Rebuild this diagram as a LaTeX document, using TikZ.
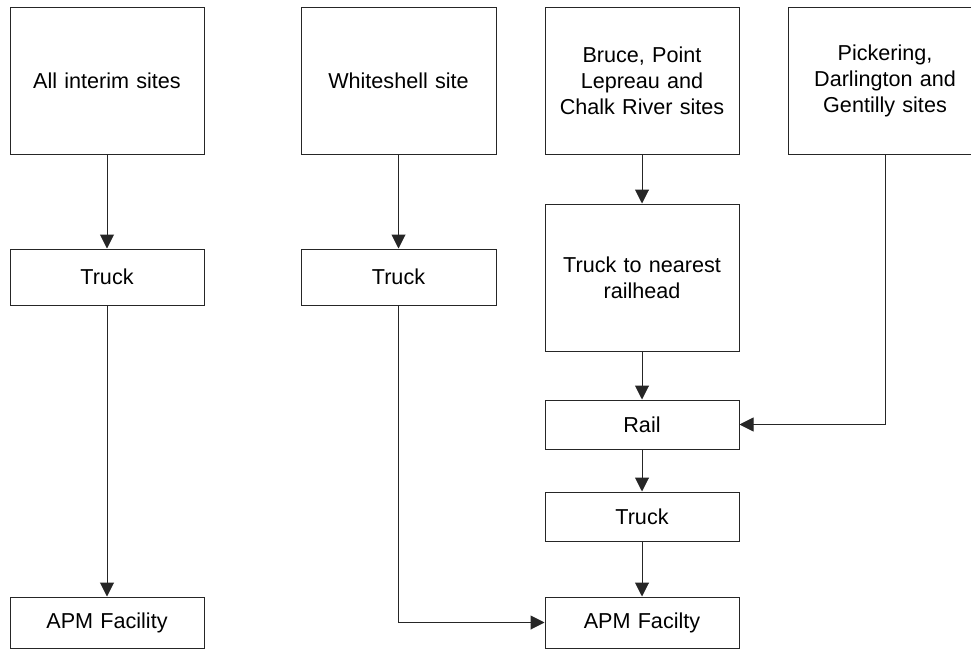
\documentclass[tikz,border=0pt]{standalone}
\usepackage{fontspec}
\setmainfont{Liberation Sans}
\usetikzlibrary{arrows.meta}
\begin{document}
\begin{tikzpicture}[x=1pt,y=-1pt,
  box/.style={draw=black!85,line width=1pt,inner sep=0pt,align=center,
    font=\fontsize{21.6pt}{26pt}\selectfont,text width=#1},
  box/.default=190pt,
  conn/.style={draw=black!85,line width=1pt,-{Triangle[length=14pt,width=14pt]}}]
\useasboundingbox (0,0) rectangle (971,650);
\fill[white] (0,0) rectangle (971,650);
% top row
\node[box,minimum width=194pt,minimum height=146pt] (A) at (107,81) {All interim sites};
\node[box,minimum width=195pt,minimum height=146pt] (W) at (398.5,81) {Whiteshell site};
\node[box,minimum width=194pt,minimum height=146pt] (B) at (642,81) {Bruce, Point\\Lepreau and\\Chalk River sites};
\node[box,minimum width=194pt,minimum height=146pt] (P) at (885,81) {Pickering,\\Darlington and\\Gentilly sites};
% middle
\node[box,minimum width=194pt,minimum height=56pt] (T1) at (107,277) {Truck};
\node[box,minimum width=195pt,minimum height=56pt] (T2) at (398.5,277) {Truck};
\node[box,minimum width=194pt,minimum height=147pt] (TR) at (642,277.5) {Truck to nearest\\railhead};
\node[box,minimum width=194pt,minimum height=49pt] (R) at (642,424.5) {Rail};
\node[box,minimum width=194pt,minimum height=49pt] (T3) at (642,516.5) {Truck};
% bottom
\node[box,minimum width=194pt,minimum height=51pt] (F1) at (107,622.5) {APM Facility};
\node[box,minimum width=194pt,minimum height=51pt] (F3) at (642,622.5) {APM Facilty};
% connectors
\draw[conn] (A) -- (T1);
\draw[conn] (T1) -- (F1);
\draw[conn] (W) -- (T2);
\draw[conn] (T2.south) |- (F3.west);
\draw[conn] (B) -- (TR);
\draw[conn] (TR) -- (R);
\draw[conn] (R) -- (T3);
\draw[conn] (T3) -- (F3);
\draw[conn] (P.south) |- (R.east);
\end{tikzpicture}
\end{document}
